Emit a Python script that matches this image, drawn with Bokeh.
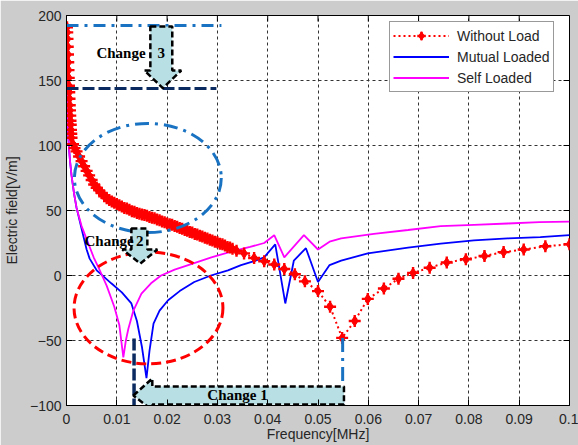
from bokeh.plotting import figure
from bokeh.models import FixedTicker, Range1d, Legend, LegendItem
from bokeh.embed import file_html
from bokeh.resources import INLINE
from bokeh.core.properties import value

# ---- measured field strength vs. frequency ----
# Without Load (frequency in MHz, field in V/m)
freq_nl = [0.0001, 0.00015, 0.0002, 0.00025, 0.0003, 0.00035, 0.0004, 0.00045,
           0.0005, 0.00055, 0.0006, 0.00065, 0.0007, 0.00075, 0.0008, 0.00085,
           0.0009, 0.00095, 0.001, 0.0013, 0.0016, 0.002, 0.0025, 0.003,
           0.0035, 0.004, 0.0045, 0.005, 0.0055, 0.006, 0.0065, 0.007,
           0.0075, 0.008, 0.0085, 0.009, 0.0095, 0.01, 0.0105, 0.011,
           0.0115, 0.012, 0.0125, 0.013, 0.0135, 0.014, 0.0145, 0.015,
           0.0155, 0.016, 0.0165, 0.017, 0.0175, 0.018, 0.0185, 0.019,
           0.0195, 0.02, 0.0205, 0.021, 0.0215, 0.022, 0.0225, 0.023,
           0.0235, 0.024, 0.0245, 0.025, 0.0255, 0.026, 0.0265, 0.027,
           0.0275, 0.028, 0.0285, 0.029, 0.0295, 0.03, 0.0305, 0.031,
           0.0315, 0.032, 0.0325, 0.033, 0.0338,
           0.0353, 0.0373, 0.0393, 0.0413, 0.0433,
           0.0454, 0.0474, 0.05, 0.0524, 0.0548, 0.0573, 0.0599, 0.0631,
           0.066, 0.0689, 0.0722, 0.0756, 0.0794, 0.0831, 0.0869, 0.0909,
           0.0952, 0.1]
field_nl = [191, 187, 182, 176, 170, 164, 158, 152,
            146, 141, 136, 131, 127, 123, 119, 116,
            112, 109, 106, 101, 98, 95.5, 91.5, 88,
            84, 80.5, 77, 73.5, 70, 67.5, 65.5, 63.5,
            61, 59.5, 58, 57, 56, 55, 54, 53,
            52, 51.5, 50.5, 49.5, 49, 48, 47.5, 47,
            46.5, 46, 45, 44.5, 44, 43, 42.5, 41.5,
            41, 40, 39.5, 39, 38, 37.5, 36.5, 36,
            35, 34.5, 33.5, 33, 32, 31.5, 30.5, 30,
            29, 28.5, 27.5, 27, 26, 25.5, 24.5, 24,
            23, 22, 21.5, 20.5, 19,
            17, 13.5, 11, 8.5, 5,
            1, -4.5, -12, -24, -48, -35, -18, -10,
            -2.5, 2, 6, 10, 12.5, 15, 18, 20,
            22.5, 24]

# Mutual Loaded
freq_ml = [0.0001, 0.0002, 0.0003, 0.0005, 0.0007, 0.001, 0.0015, 0.002,
           0.003, 0.004, 0.0046, 0.006, 0.0089, 0.011, 0.0129, 0.014,
           0.015, 0.0159, 0.0165, 0.0173, 0.0185, 0.0202, 0.0225, 0.0254,
           0.0287, 0.0321, 0.0347, 0.0373, 0.0393, 0.0415, 0.0435, 0.0452,
           0.0476, 0.05, 0.0523, 0.0546, 0.0599, 0.0679, 0.0744, 0.081,
           0.0877, 0.0942, 0.1]
field_ml = [175, 130, 112, 98, 88, 77, 63, 52,
            36, 20, 13, 4, -6, -13, -21.5, -35,
            -55, -79, -58, -37, -27, -19, -12, -5,
            0, 4, 8, 11, 14, 24, -21.5, 11.5,
            21, -5, 8, 11.5, 17, 21.5, 24.5, 27,
            28.5, 29.5, 31]

# Self Loaded
freq_sl = [0.0001, 0.0002, 0.0003, 0.0005, 0.0007, 0.001, 0.0015, 0.002,
           0.003, 0.004, 0.0054, 0.0065, 0.008, 0.0095, 0.0105, 0.0113,
           0.0118, 0.0123, 0.0133, 0.0149, 0.0168, 0.0188, 0.0215, 0.0242,
           0.0288, 0.0333, 0.0365, 0.0393, 0.0413, 0.0433, 0.0472, 0.05,
           0.0523, 0.0546, 0.0611, 0.0679, 0.0744, 0.081, 0.0877, 0.094,
           0.1]
field_sl = [175, 130, 112, 98, 88, 77, 63, 52,
            38, 28, 14, 5, -8, -24, -38, -63,
            -50, -41, -27, -14, -6, 0, 4.5, 8,
            14, 19, 22, 25, 31, 14, 31, 20,
            26, 28.5, 32, 35, 38, 39, 40, 41,
            41.5]

series_names = ["Without Load", "Mutual Loaded", "Self Loaded"]

x_ticks = [0, 0.01, 0.02, 0.03, 0.04, 0.05, 0.06, 0.07, 0.08, 0.09, 0.1]
x_tick_labels = ["0", "0.01", "0.02", "0.03", "0.04", "0.05", "0.06",
                 "0.07", "0.08", "0.09", "0.1"]
y_ticks = [-100, -50, 0, 50, 100, 150, 200]

X_MIN, X_MAX = 0, 0.1
Y_MIN, Y_MAX = -100, 200

FONT = "Liberation Sans"
SERIF = "Liberation Serif"
TXT = "#262626"
GUIDE_BLUE = "#1a73c2"
NAVY = "#0b2a60"
ARROW_FILL = "#b8dfe3"

p = figure(width=578, height=445, x_range=Range1d(X_MIN, X_MAX),
           y_range=Range1d(Y_MIN, Y_MAX), output_backend="svg",
           toolbar_location=None, min_border_left=65, min_border_right=9,
           min_border_top=15, min_border_bottom=40,
           background_fill_color="white", border_fill_color="#cccccc",
           outline_line_color="black", outline_line_width=1)

# axes
p.xaxis.ticker = FixedTicker(ticks=x_ticks)
p.xaxis.major_label_overrides = dict(zip(x_ticks, x_tick_labels))
p.yaxis.ticker = FixedTicker(ticks=y_ticks)
p.xaxis.axis_label = "Frequency[MHz]"
p.yaxis.axis_label = "Electric field[V/m]"
for ax in (p.xaxis[0], p.yaxis[0]):
    ax.major_tick_in = 6
    ax.major_tick_out = 0
    ax.minor_tick_line_color = None
    ax.axis_line_color = "black"
    ax.major_tick_line_color = "black"
    ax.major_label_text_font = FONT
    ax.major_label_text_font_size = "14px"
    ax.major_label_text_color = TXT
    ax.axis_label_text_font = FONT
    ax.axis_label_text_font_size = "14px"
    ax.axis_label_text_font_style = "normal"
    ax.axis_label_text_color = TXT
p.xaxis.major_label_standoff = 8
p.xaxis.axis_label_standoff = -1
p.yaxis.major_label_standoff = 5
p.yaxis.axis_label_standoff = 7

for g in (p.xgrid[0], p.ygrid[0]):
    g.grid_line_color = "#333333"
    g.grid_line_dash = "3 3"
    g.grid_line_width = 1

# inward tick marks along the top and right edges of the box
tick_len_y = 6 * (Y_MAX - Y_MIN) / 390
tick_len_x = 6 * (X_MAX - X_MIN) / 504
p.segment(x0=x_ticks, y0=[Y_MAX] * len(x_ticks), x1=x_ticks,
          y1=[Y_MAX - tick_len_y] * len(x_ticks), line_color="black", line_width=1)
p.segment(x0=[X_MAX] * len(y_ticks), y0=y_ticks, x1=[X_MAX - tick_len_x] * len(y_ticks),
          y1=y_ticks, line_color="black", line_width=1)

# ---- curves ----
r_ml = p.line(freq_ml, field_ml, line_color="#0000ff", line_width=1.8)
r_sl = p.line(freq_sl, field_sl, line_color="#ff00ff", line_width=1.8)
r_nl = p.line(freq_nl, field_nl, line_color="#ff0000", line_width=2, line_dash="2 3")
r_nl_d = p.scatter(freq_nl, field_nl, marker="diamond", size=10,
                   fill_color="#ff0000", line_color="#ff0000")
r_nl_c = p.scatter(freq_nl, field_nl, marker="cross", size=12,
                   line_color="#ff0000", line_width=2.4)

# ---- highlighting annotations ----
# dash-dot and dashed ellipses
p.ellipse(x=[0.01617], y=[75], width=[0.0292], height=[84], fill_alpha=0,
          line_color=GUIDE_BLUE, line_width=3, line_dash="14 6 3 6")
p.ellipse(x=[0.0163], y=[-25], width=[0.0296], height=[86], fill_alpha=0,
          line_color="#ff0000", line_width=3, line_dash="10 5")

# level guides
p.line([0, 0.0308], [192.3, 192.3], line_color=GUIDE_BLUE, line_width=3,
       line_dash="12 6 3 6")
p.line([0, 0.0298], [143.8, 143.8], line_color=NAVY, line_width=3, line_dash="12 4")
p.line([0.01343, 0.01343], [-48.5, -100], line_color=NAVY, line_width=3.5,
       line_dash="12 3")
p.line([0.0549, 0.0549], [-48, -100], line_color=GUIDE_BLUE, line_width=3,
       line_dash="14 6 3 6")

outline = dict(fill_color=ARROW_FILL, line_color="black", line_width=2.5,
               line_dash="6 3")
# arrow "Change 3"
p.patch([0.01667, 0.02103, 0.02103, 0.02282, 0.01915, 0.01548, 0.01667],
        [191.5, 191.5, 157.7, 157.7, 144.2, 157.7, 157.7], **outline)
# arrow "Change 2"
p.patch([0.0129, 0.01607, 0.01607, 0.01806, 0.01468, 0.01111, 0.0129],
        [36.2, 36.2, 20, 20, 9.2, 20, 20], **outline)
# arrow "Change 1"
p.patch([0.01329, 0.01706, 0.01706, 0.05516, 0.05516, 0.01706, 0.01766],
        [-92.3, -79.2, -85.4, -85.4, -99.2, -99.2, -105.4], **outline)

lbl = dict(text_font=value(SERIF), text_font_style="bold", text_font_size="15px",
           text_color="black", text_baseline="middle")
p.text(x=[0.00595], y=[171.2], text=["Change"], text_align="left", **lbl)
p.text(x=[0.01885], y=[171.2], text=["3"], text_align="center", **lbl)
p.text(x=[0.00357], y=[26.2], text=["Change"], text_align="left", **lbl)
p.text(x=[0.01458], y=[26.2], text=["2"], text_align="center", **lbl)
p.text(x=[0.0340], y=[-92.3], text=["Change 1"], text_align="center", **lbl)

# ---- legend ----
legend = Legend(items=[
    LegendItem(label=series_names[0], renderers=[r_nl, r_nl_d, r_nl_c]),
    LegendItem(label=series_names[1], renderers=[r_ml]),
    LegendItem(label=series_names[2], renderers=[r_sl]),
], location=(323, 313))
legend.border_line_color = "#333333"
legend.border_line_width = 1
legend.background_fill_color = "white"
legend.background_fill_alpha = 1
legend.label_text_font = FONT
legend.label_text_font_size = "14px"
legend.label_text_color = TXT
legend.glyph_width = 56
legend.glyph_height = 21
legend.label_height = 21
legend.label_standoff = 8
legend.spacing = 0
legend.padding = 3
legend.margin = 0
p.add_layout(legend)

open("out.html", "w").write(file_html(p, INLINE))
